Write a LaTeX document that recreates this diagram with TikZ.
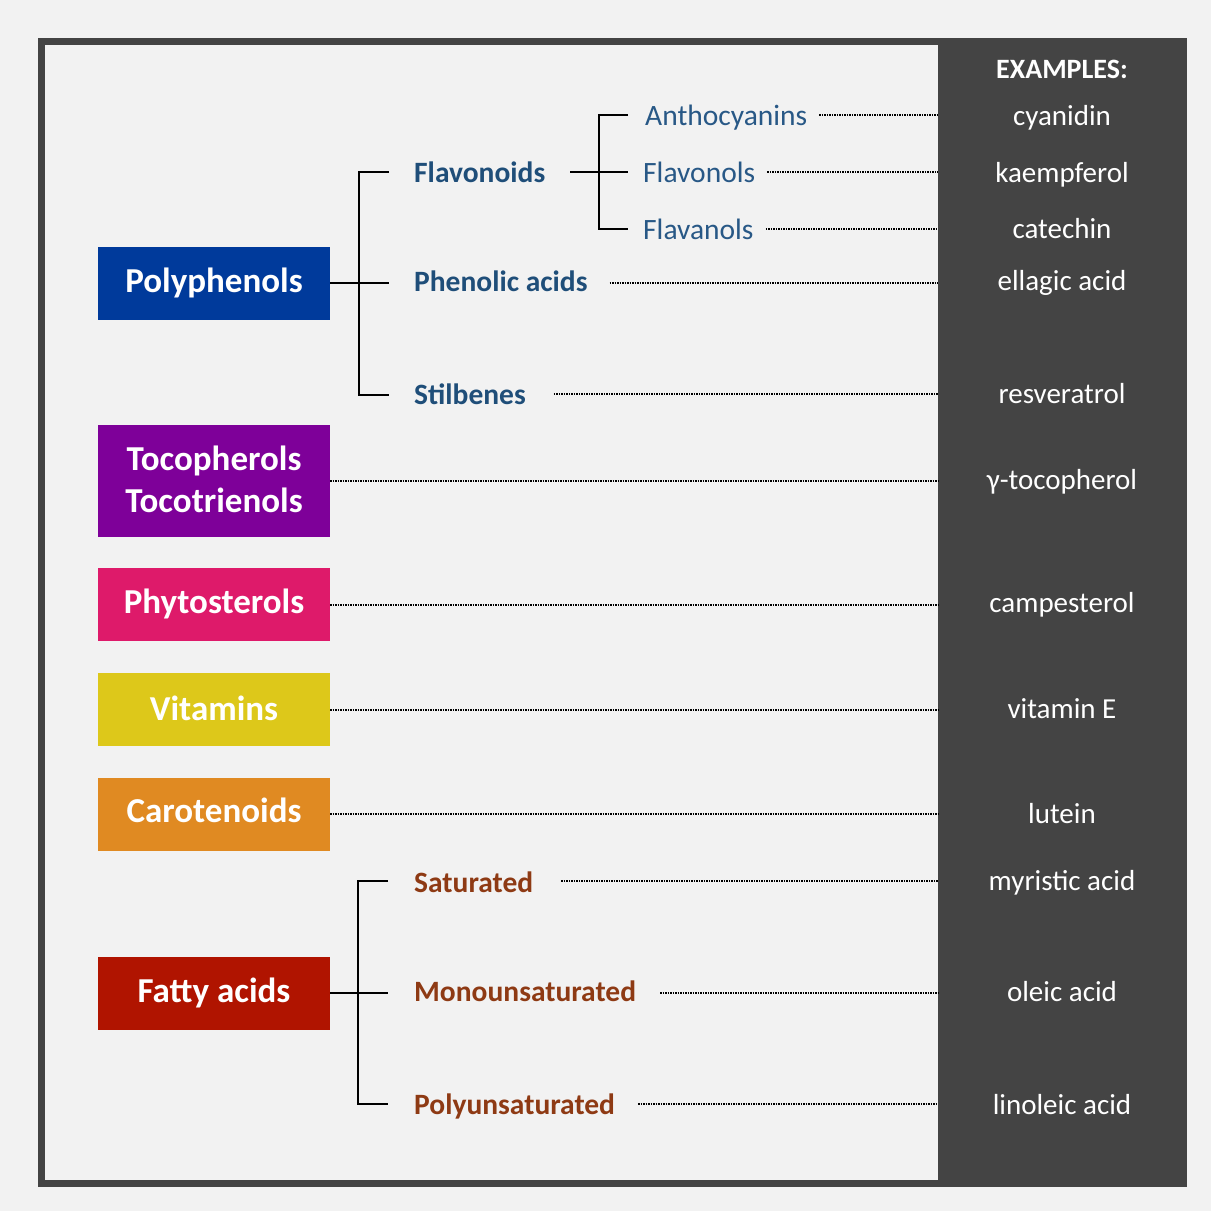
\documentclass[tikz,border=0pt]{standalone}
\usepackage{fontspec}
\setmainfont{Carlito}
\definecolor{bgl}{HTML}{F2F2F2}
\definecolor{frame}{HTML}{444444}
\definecolor{cpoly}{HTML}{003A9B}
\definecolor{cpurp}{HTML}{7E0099}
\definecolor{cpink}{HTML}{DE1A6A}
\definecolor{cyell}{HTML}{DDC81A}
\definecolor{coran}{HTML}{E08A22}
\definecolor{cred}{HTML}{B01400}
\definecolor{subb}{HTML}{1F4E79}
\definecolor{subl}{HTML}{285886}
\definecolor{brn}{HTML}{8E3A14}
\tikzset{
  catbox/.style={rectangle, minimum width=232pt, minimum height=73pt, inner sep=0pt},
  cattext/.style={anchor=base, inner sep=0pt, text=white, font=\fontsize{35}{40}\selectfont\bfseries},
  subbold/.style={anchor=base west, inner sep=0pt, font=\fontsize{29.5}{34}\selectfont\bfseries, text=subb},
  subreg/.style={anchor=base west, inner sep=0pt, font=\fontsize{29.5}{34}\selectfont, text=subl},
  fatsub/.style={anchor=base west, inner sep=0pt, font=\fontsize{29.5}{34}\selectfont\bfseries, text=brn},
  example/.style={anchor=base, inner sep=0pt, font=\fontsize{29}{34}\selectfont, text=white},
  tree/.style={line width=2pt, black},
  dotline/.style={line width=2pt, black, dash pattern=on 1.4pt off 1.1pt},
}
\begin{document}
\begin{tikzpicture}[x=1pt,y=-1pt]
\useasboundingbox (0,0) rectangle (1211,1211);
\fill[bgl] (0,0) rectangle (1211,1211);
\fill[frame] (38,38) rectangle (1187,1187);
\fill[bgl] (45,45) rectangle (938,1180);
\coordinate (panelL) at (938,600);
% category boxes
\node[catbox, fill=cpoly] (poly) at (214,283.5) {};
\node[catbox, fill=cpurp, minimum height=112pt] (toco) at (214,481) {};
\node[catbox, fill=cpink] (phyto) at (214,604.5) {};
\node[catbox, fill=cyell] (vit) at (214,709.5) {};
\node[catbox, fill=coran] (carot) at (214,814) {};
\node[catbox, fill=cred] (fatty) at (214,993.5) {};
\node[cattext] (polyT) at (214,292) {Polyphenols};
\node[cattext] (tocoT1) at (214,470) {Tocopherols};
\node[cattext] (tocoT2) at (214,512) {Tocotrienols};
\node[cattext] (phytoT) at (214,613.5) {Phytosterols};
\node[cattext] (vitT) at (214,720) {Vitamins};
\node[cattext] (carotT) at (214,822.5) {Carotenoids};
\node[cattext] (fattyT) at (214,1002.5) {Fatty acids};
% polyphenol subclasses
\node[subbold] (flavo) at (414,182) {Flavonoids};
\node[subbold] (phen) at (414,291) {Phenolic acids};
\node[subbold] (stil) at (414,404) {Stilbenes};
\node[subreg] (anth) at (645,125) {Anthocyanins};
\node[subreg] (flavol) at (643,182) {Flavonols};
\node[subreg] (flaval) at (643,239) {Flavanols};
% fatty subclasses
\node[fatsub] (sat) at (414,892) {Saturated};
\node[fatsub] (mono) at (414,1001) {Monounsaturated};
\node[fatsub] (polyu) at (414,1114) {Polyunsaturated};
% examples
\node[example, font=\fontsize{28}{34}\selectfont\bfseries] (exh) at (1062,78.5) {EXAMPLES:};
\node[example] (e1) at (1062,125) {cyanidin};
\node[example] (e2) at (1062,182) {kaempferol};
\node[example] (e3) at (1062,238.5) {catechin};
\node[example] (e4) at (1062,290.5) {ellagic acid};
\node[example] (e5) at (1062,403) {resveratrol};
\node[example] (e6) at (1062,489) {γ-tocopherol};
\node[example] (e7) at (1062,612) {campesterol};
\node[example] (e8) at (1062,718) {vitamin E};
\node[example] (e9) at (1062,823) {lutein};
\node[example] (e10) at (1062,890) {myristic acid};
\node[example] (e11) at (1062,1001) {oleic acid};
\node[example] (e12) at (1062,1114) {linoleic acid};
% tree: polyphenols
\coordinate (pj) at (359,283);
\draw[tree] (poly.east |- pj) -- (389,283);
\draw[tree] (389,172) -- (359,172) -- (359,395) -- (389,395);
% tree: flavonoids
\draw[tree] (570,172) -- (628,172);
\draw[tree] (628,115) -- (599,115) -- (599,229) -- (628,229);
% tree: fatty acids
\coordinate (fj) at (358,993);
\draw[tree] (fatty.east |- fj) -- (388,993);
\draw[tree] (388,881) -- (358,881) -- (358,1104) -- (388,1104);
% dotted leaders
\draw[dotline] (anth.east |- 0,115) ++(12,0) -- (panelL |- 0,115);
\draw[dotline] (flavol.east |- 0,172) ++(12,0) -- (panelL |- 0,172);
\draw[dotline] (flaval.east |- 0,229) ++(12,0) -- (panelL |- 0,229);
\draw[dotline] (phen.east |- 0,283) ++(22,0) -- (panelL |- 0,283);
\draw[dotline] (stil.east |- 0,394) ++(28,0) -- (panelL |- 0,394);
\draw[dotline] (toco.east) -- (panelL |- toco.east);
\draw[dotline] (phyto.east) -- (panelL |- phyto.east);
\draw[dotline] (vit.east) -- (panelL |- vit.east);
\draw[dotline] (carot.east) -- (panelL |- carot.east);
\draw[dotline] (sat.east |- 0,881) ++(28,0) -- (panelL |- 0,881);
\draw[dotline] (mono.east |- 0,993) ++(24,0) -- (panelL |- 0,993);
\draw[dotline] (polyu.east |- 0,1104) ++(23,0) -- (panelL |- 0,1104);
\end{tikzpicture}
\end{document}
